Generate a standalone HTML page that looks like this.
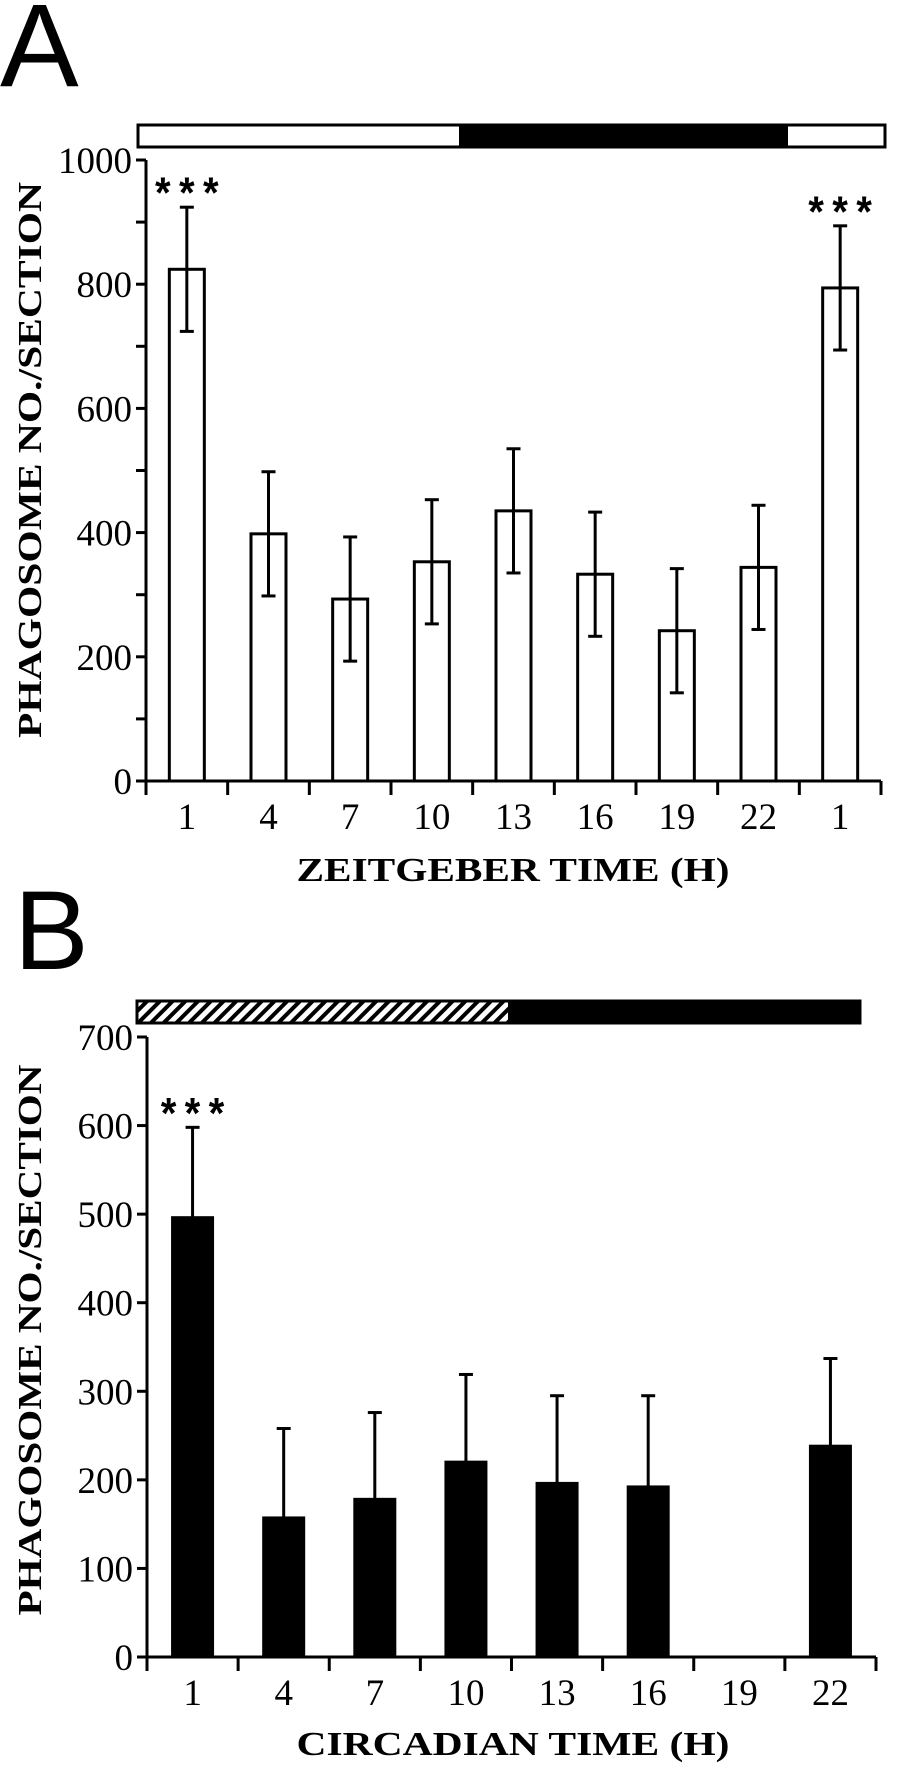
<!DOCTYPE html>
<html><head><meta charset="utf-8"><style>
html,body{margin:0;padding:0;background:#fff;}
svg{display:block;}
.tk{font-family:"Liberation Serif",serif;font-size:37px;fill:#000;}
.ttl{font-family:"Liberation Serif",serif;font-size:34px;font-weight:bold;fill:#000;}
.star{font-family:"Liberation Mono",monospace;font-size:44px;font-weight:bold;fill:#000;}
.big{font-family:"Liberation Sans",sans-serif;font-size:112px;fill:#000;}
</style></head><body>
<svg id="chart" width="904" height="1788" viewBox="0 0 904 1788" xmlns="http://www.w3.org/2000/svg">
<defs>
<pattern id="hatch" patternUnits="userSpaceOnUse" width="9" height="9" patternTransform="rotate(45)">
<rect width="9" height="9" fill="#fff"/><rect width="4" height="9" fill="#000"/>
</pattern>
</defs>
<text class="big" x="0" y="86" style="font-size:118px">A</text>
<text class="big" x="14" y="969">B</text>
<g id="gA"></g>
<g id="gB"></g>
</svg>
<script>
// Panel A data
const catsA = ["1","4","7","10","13","16","19","22","1"];
const valsA = [824, 398, 293, 353, 435, 333, 242, 344, 794];
const errA = [100, 100, 100, 100, 100, 100, 100, 100, 100];
const ticksA = [0, 200, 400, 600, 800, 1000];
const starsA = [0, 8];
// Panel B data
const catsB = ["1","4","7","10","13","16","19","22"];
const valsB = [496, 157, 178, 220, 196, 192, null, 238];
const errB = [102, 101, 98, 99, 99, 103, 0, 99];
const ticksB = [0, 100, 200, 300, 400, 500, 600, 700];
const starsB = [0];

const NS = "http://www.w3.org/2000/svg";
const SW = 3;
function mk(parent, tag, attrs){
  const e = document.createElementNS(NS, tag);
  for (const k in attrs) e.setAttribute(k, attrs[k]);
  parent.appendChild(e);
  return e;
}

function panel(g, cfg){
  const n = cfg.cats.length;
  const step = (cfg.x1 - cfg.x0) / n;
  const xs = i => cfg.x0 + step * (i + 0.5);
  const ys = v => cfg.y0 - (v / cfg.max) * (cfg.y0 - cfg.yTop);
  const lb = mk(g, "rect", {x:cfg.lb[0], y:cfg.lb[2], width:cfg.lb[1]-cfg.lb[0], height:cfg.lb[3]-cfg.lb[2], fill:cfg.lbFill, stroke:"#000", "stroke-width":SW});
  
  
  const db = mk(g, "rect", {x:cfg.dark[0], y:cfg.lb[2], width:cfg.dark[1]-cfg.dark[0], height:cfg.lb[3]-cfg.lb[2], fill:"#000"});
  
  
  const ya = mk(g, "line", {x1:cfg.x0, y1:cfg.yTop, x2:cfg.x0, y2:cfg.y0, stroke:"#000", "stroke-width":SW});
  
  
  const xa = mk(g, "line", {x1:cfg.x0-10, y1:cfg.y0, x2:cfg.x1, y2:cfg.y0, stroke:"#000", "stroke-width":SW});
  
  
  for (let v = 0; v <= cfg.max; v += 100){
    const t = mk(g, "line", {x1:cfg.x0-10, y1:ys(v), x2:cfg.x0, y2:ys(v), stroke:"#000", "stroke-width":SW});
    
    
  }
  cfg.ticks.forEach(v => {
    const t = mk(g, "text", {class:"tk", x:cfg.x0-14, y:ys(v)+13, "text-anchor":"end"});
    t.textContent = v;
    
    
  });
  for (let i = 0; i <= n; i++){
    const t = mk(g, "line", {x1:cfg.x0+step*i, y1:cfg.y0, x2:cfg.x0+step*i, y2:cfg.y0+14, stroke:"#000", "stroke-width":SW});
    
    
  }
  cfg.cats.forEach((c, i) => {
    const t = mk(g, "text", {class:"tk", x:xs(i), y:cfg.labY, "text-anchor":"middle"});
    t.textContent = c;
    
    
  });
  cfg.vals.forEach((v, i) => {
    if (v === null) return;
    const x = xs(i), bw = cfg.bw;
    const top = ys(v + cfg.err[i]);
    const e = mk(g, "line", {x1:x, y1:top, x2:x, y2:cfg.both ? ys(v - cfg.err[i]) : ys(v), stroke:"#000", "stroke-width":SW});
    
    
    const c1 = mk(g, "line", {x1:x-7, y1:top, x2:x+7, y2:top, stroke:"#000", "stroke-width":SW});
    
    
    if (cfg.both){
      const c2 = mk(g, "line", {x1:x-7, y1:ys(v - cfg.err[i]), x2:x+7, y2:ys(v - cfg.err[i]), stroke:"#000", "stroke-width":SW});
      
      
    }
    const r = mk(g, "rect", {x:x-bw/2, y:ys(v), width:bw, height:cfg.y0-ys(v), fill:cfg.fill ? "#000" : "none", stroke:"#000", "stroke-width":SW});
    
    
  });
  cfg.stars.forEach(i => {
    const t = mk(g, "text", {class:"star", x:xs(i), y:ys(cfg.vals[i] + cfg.err[i]) + 2, "text-anchor":"middle", "textLength":72, lengthAdjust:"spacingAndGlyphs"});
    t.textContent = "***";
    
    
  });
  const xt = mk(g, "text", {class:"ttl", x:513, y:cfg.titY, "text-anchor":"middle", textLength:433, lengthAdjust:"spacingAndGlyphs"});
  xt.textContent = cfg.xTitle;
  
  
  const yt = mk(g, "text", {class:"ttl", x:0, y:0, "text-anchor":"middle", textLength:cfg.yLen, lengthAdjust:"spacingAndGlyphs", transform:"translate(41," + cfg.yMid + ") rotate(-90)"});
  yt.textContent = "PHAGOSOME NO./SECTION";
  
  
}

panel(document.getElementById("gA"), {
  cats:catsA, vals:valsA, err:errA, ticks:ticksA, stars:starsA, prefix:"zt",
  x0:146, x1:881, y0:781, yTop:160, max:1000, bw:35, fill:false, both:true,
  lb:[138,885,125,147], lbFill:"#fff", dark:[459,788],
  labY:829, titY:881, xTitle:"ZEITGEBER TIME (H)", yMid:460, yLen:556
});
panel(document.getElementById("gB"), {
  cats:catsB, vals:valsB, err:errB, ticks:ticksB, stars:starsB, prefix:"ct",
  x0:147, x1:876, y0:1657, yTop:1037, max:700, bw:40, fill:true, both:false,
  lb:[137,860,1001,1023], lbFill:"url(#hatch)", dark:[508,860],
  labY:1705, titY:1755, xTitle:"CIRCADIAN TIME (H)", yMid:1340, yLen:551
});
</script>
</body></html>
